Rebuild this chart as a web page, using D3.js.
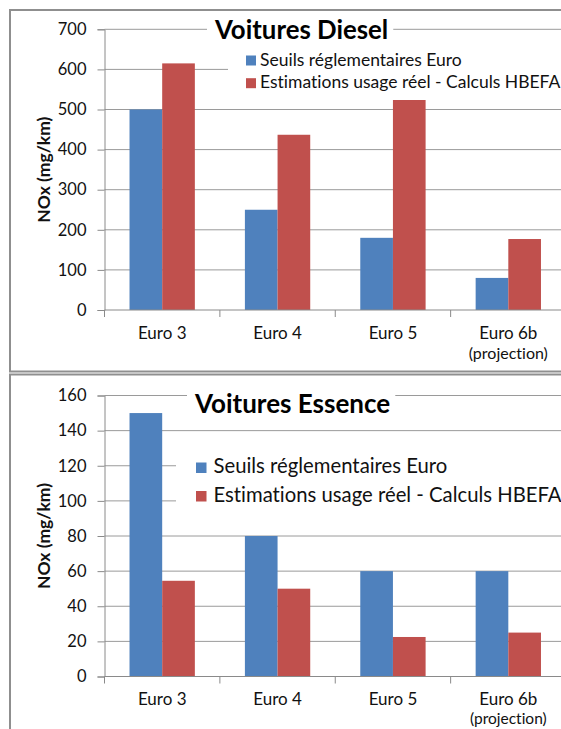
<!DOCTYPE html>
<html><head><meta charset="utf-8">
<script src="https://cdn.jsdelivr.net/npm/d3@7"></script>
<style>
html,body{margin:0;padding:0;background:#fff;}
svg{display:block;font-family:Lato,"Open Sans",sans-serif;font-variant-ligatures:none;font-feature-settings:"liga" 0, "clig" 0;}
</style></head>
<body>
<svg id="chart" width="561" height="729"></svg>
<script>
const categories = ["Euro 3", "Euro 4", "Euro 5", "Euro 6b"];
const categorySubLabels = ["", "", "", "(projection)"];
const seriesNames = ["Seuils réglementaires Euro", "Estimations usage réel - Calculs HBEFA"];
const seriesColors = ["#4F81BD", "#C0504D"];
const dieselSeuils = [500, 250, 180, 80];
const dieselReel = [615, 437, 533, 177];
const essenceSeuils = [150, 80, 60, 60];
const essenceReel = [54.5, 50, 22.5, 25];
const dieselTicks = [0, 100, 200, 300, 400, 500, 600, 700];
const essenceTicks = [0, 20, 40, 60, 80, 100, 120, 140, 160];
const yAxisTitle = "NOx (mg/km)";
const titles = ["Voitures Diesel", "Voitures Essence"];

const svg = d3.select("#chart");

// panel frames
svg.append("rect").attr("x", 10).attr("y", 10).attr("width", 560).attr("height", 361.5)
  .attr("fill", "none").attr("stroke", "#8f8f8f").attr("stroke-width", 2);
svg.append("rect").attr("x", 10).attr("y", 374.5).attr("width", 560).attr("height", 400)
  .attr("fill", "none").attr("stroke", "#8f8f8f").attr("stroke-width", 2);

function drawChart(cfg) {
  const g = svg.append("g");
  const x = d3.scaleBand().domain(categories).range([cfg.left, cfg.right]).paddingInner(0).paddingOuter(0);
  const x1 = d3.scaleBand().domain(seriesNames).range([0, x.bandwidth()]).paddingInner(0).paddingOuter(0.766);
  const y = d3.scaleLinear().domain([0, d3.max(cfg.ticks)]).range([cfg.bottom, cfg.top]);

  // gridlines
  g.append("g").selectAll("line").data(cfg.ticks.filter(t => t > 0)).join("line")
    .attr("x1", cfg.left).attr("x2", cfg.right)
    .attr("y1", d => y(d)).attr("y2", d => y(d))
    .attr("stroke", "#9a9a9a").attr("stroke-width", 1);

  // y axis
  const ya = g.append("g").attr("transform", `translate(${cfg.left},0)`)
    .call(d3.axisLeft(y).tickValues(cfg.ticks).tickSize(7).tickPadding(11).tickFormat(d3.format("d")));
  ya.select(".domain").attr("stroke", "#8a8a8a");
  ya.selectAll(".tick line").attr("stroke", "#8a8a8a");
  ya.selectAll(".tick text").attr("font-size", 16.5).attr("fill", "#111").attr("font-family", "Lato");

  // bars
  const seriesData = [cfg.seuils, cfg.reel];
  seriesData.forEach((vals, si) => {
    g.append("g").selectAll("rect").data(vals).join("rect")
      .attr("x", (d, i) => x(categories[i]) + x1(seriesNames[si]))
      .attr("width", x1.bandwidth())
      .attr("y", d => y(d))
      .attr("height", d => y(0) - y(d))
      .attr("fill", seriesColors[si]);
  });

  // x axis line
  g.append("line").attr("x1", cfg.left).attr("x2", cfg.right).attr("y1", cfg.bottom).attr("y2", cfg.bottom)
    .attr("stroke", "#8a8a8a");
  // category boundary ticks
  g.append("g").selectAll("line").data(categories).join("line")
    .attr("x1", d => x(d)).attr("x2", d => x(d))
    .attr("y1", cfg.bottom).attr("y2", cfg.bottom + 7)
    .attr("stroke", "#8a8a8a");

  // category labels
  g.append("g").selectAll("text").data(categories).join("text")
    .attr("x", d => x(d) + x.bandwidth() / 2)
    .attr("y", cfg.bottom + cfg.labelOffset)
    .attr("text-anchor", "middle").attr("font-size", 17).attr("fill", "#111")
    .text(d => d);
  g.append("g").selectAll("text").data(categorySubLabels).join("text")
    .attr("x", (d, i) => x(categories[i]) + x.bandwidth() / 2)
    .attr("y", cfg.bottom + cfg.labelOffset + cfg.subOffset)
    .attr("text-anchor", "middle").attr("font-size", cfg.subFont).attr("fill", "#111")
    .text(d => d);

  // y axis title
  g.append("text")
    .attr("transform", `translate(${cfg.yTitleX},${(cfg.top + cfg.bottom) / 2}) rotate(-90)`)
    .attr("text-anchor", "middle").attr("font-weight", "bold").attr("font-size", 17.5).attr("fill", "#111")
    .text(yAxisTitle);

  // legend box (white, covers gridlines)
  g.append("rect").attr("x", cfg.legBox[0]).attr("y", cfg.legBox[1])
    .attr("width", cfg.legBox[2]).attr("height", cfg.legBox[3]).attr("fill", "#fff");
  const leg = g.append("g");
  seriesNames.forEach((name, i) => {
    const by = cfg.legY + i * cfg.legStep;
    leg.append("rect").attr("x", cfg.legX).attr("y", by - cfg.legSq)
      .attr("width", cfg.legSq).attr("height", cfg.legSq).attr("fill", seriesColors[i]);
    leg.append("text").attr("x", cfg.legX + cfg.legSq + cfg.legGap).attr("y", by)
      .attr("font-size", cfg.legFont).attr("fill", "#111").text(name);
  });

  // title with white box
  const tb = g.append("rect").attr("fill", "#fff");
  const tt = g.append("text").attr("x", cfg.titleX).attr("y", cfg.titleY)
    .attr("font-weight", "bold").attr("font-size", cfg.titleFont).attr("fill", "#000")
    .text(cfg.title);
  const bb = tt.node().getBBox();
  tb.attr("x", bb.x - 7).attr("y", bb.y).attr("width", bb.width + 12).attr("height", bb.height);
}

drawChart({
  title: titles[0], seuils: dieselSeuils, reel: dieselReel, ticks: dieselTicks,
  left: 104.5, right: 566, top: 29.3, bottom: 310,
  labelOffset: 29, subOffset: 19.5, subFont: 16, yTitleX: 50,
  legBox: [228, 46, 340, 54], legX: 246, legY: 65.5, legStep: 22.7, legSq: 10, legGap: 4, legFont: 17.5,
  titleX: 215, titleY: 39, titleFont: 25.8
});
drawChart({
  title: titles[1], seuils: essenceSeuils, reel: essenceReel, ticks: essenceTicks,
  left: 104.5, right: 566, top: 395.5, bottom: 676.5,
  labelOffset: 28.5, subOffset: 18.5, subFont: 15.5, yTitleX: 50,
  legBox: [176, 445, 390, 76], legX: 196, legY: 473, legStep: 28.5, legSq: 10.5, legGap: 7, legFont: 20.3,
  titleX: 195, titleY: 413, titleFont: 26
});
</script>
</body></html>
